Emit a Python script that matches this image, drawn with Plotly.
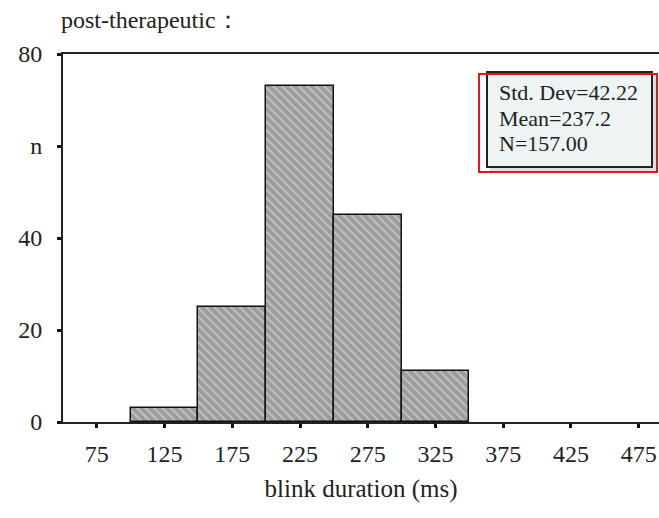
import plotly.graph_objects as go

bin_centers = [125, 175, 225, 275, 325]
counts = [3, 25, 73, 45, 11]
bin_width = 50
x_ticks = [75, 125, 175, 225, 275, 325, 375, 425, 475]
y_ticks = [0, 20, 40, 60, 80]
y_ticktext = ["0", "20", "40", "n", "80"]
stats_lines = ["Std. Dev=42.22", "Mean=237.2", "N=157.00"]

FONT = "Liberation Serif, Times New Roman, serif"

fig = go.Figure()
fig.add_trace(go.Bar(
    x=bin_centers, y=counts, width=[bin_width] * len(counts),
    marker=dict(
        color="#9c9c9c",
        line=dict(color="#111111", width=1.5),
        pattern=dict(shape="\\", fgcolor="#efefef", bgcolor="#9c9c9c", size=6, solidity=0.3),
    ),
    showlegend=False, hoverinfo="x+y",
))

W, H = 659, 518
L, R, T, B = 63, 0, 54, 96
pw, ph = W - L - R, H - T - B

def px(x):
    return (x - L) / pw

def py(y):
    return (H - B - y) / ph

shapes = [
    dict(type="rect", xref="paper", yref="paper", x0=px(490), x1=px(656), y0=py(171), y1=py(75),
         fillcolor="rgba(0,0,0,0.12)", line=dict(width=0), layer="above"),
    dict(type="rect", xref="paper", yref="paper", x0=px(487), x1=px(652), y0=py(167), y1=py(72),
         fillcolor="#eef3f4", line=dict(color="#222222", width=2), layer="above"),
    dict(type="rect", xref="paper", yref="paper", x0=px(479), x1=px(657), y0=py(172), y1=py(74),
         fillcolor="rgba(0,0,0,0)", line=dict(color="#ee1111", width=2), layer="above"),
]

annotations = [
    dict(text="post-therapeutic\uff1a", xref="paper", yref="paper", x=px(59), y=py(20),
         xanchor="left", yanchor="middle", showarrow=False,
         font=dict(family=FONT, size=24, color="#222222")),
]
for i, line in enumerate(stats_lines):
    annotations.append(dict(
        text=line, xref="paper", yref="paper", x=px(497), y=py(93 + 25 * i),
        xanchor="left", yanchor="middle", showarrow=False,
        font=dict(family=FONT, size=22, color="#222222")))

fig.update_layout(
    width=W, height=H,
    margin=dict(l=L, r=R, t=T, b=B, pad=0),
    paper_bgcolor="white", plot_bgcolor="white",
    font=dict(family=FONT, size=24, color="#222222"),
    bargap=0,
    shapes=shapes, annotations=annotations,
    xaxis=dict(
        range=[50, 490], tickvals=x_ticks, ticks="outside", ticklen=4, tickwidth=3,
        tickcolor="#111111", showline=True, linecolor="#222222", linewidth=2, mirror=True,
        showgrid=False, zeroline=False, ticklabelstandoff=5,
        tickfont=dict(family=FONT, size=24),
        title=dict(text="blink duration (ms)", font=dict(family=FONT, size=25), standoff=14),
    ),
    yaxis=dict(
        range=[0, 80], tickvals=y_ticks, ticktext=y_ticktext, ticks="outside", ticklen=4,
        tickwidth=3, tickcolor="#111111", showline=True, linecolor="#222222", linewidth=2,
        showgrid=False, zeroline=False, ticklabelstandoff=10,
        tickfont=dict(family=FONT, size=24),
    ),
)

fig.write_html("out.html")
